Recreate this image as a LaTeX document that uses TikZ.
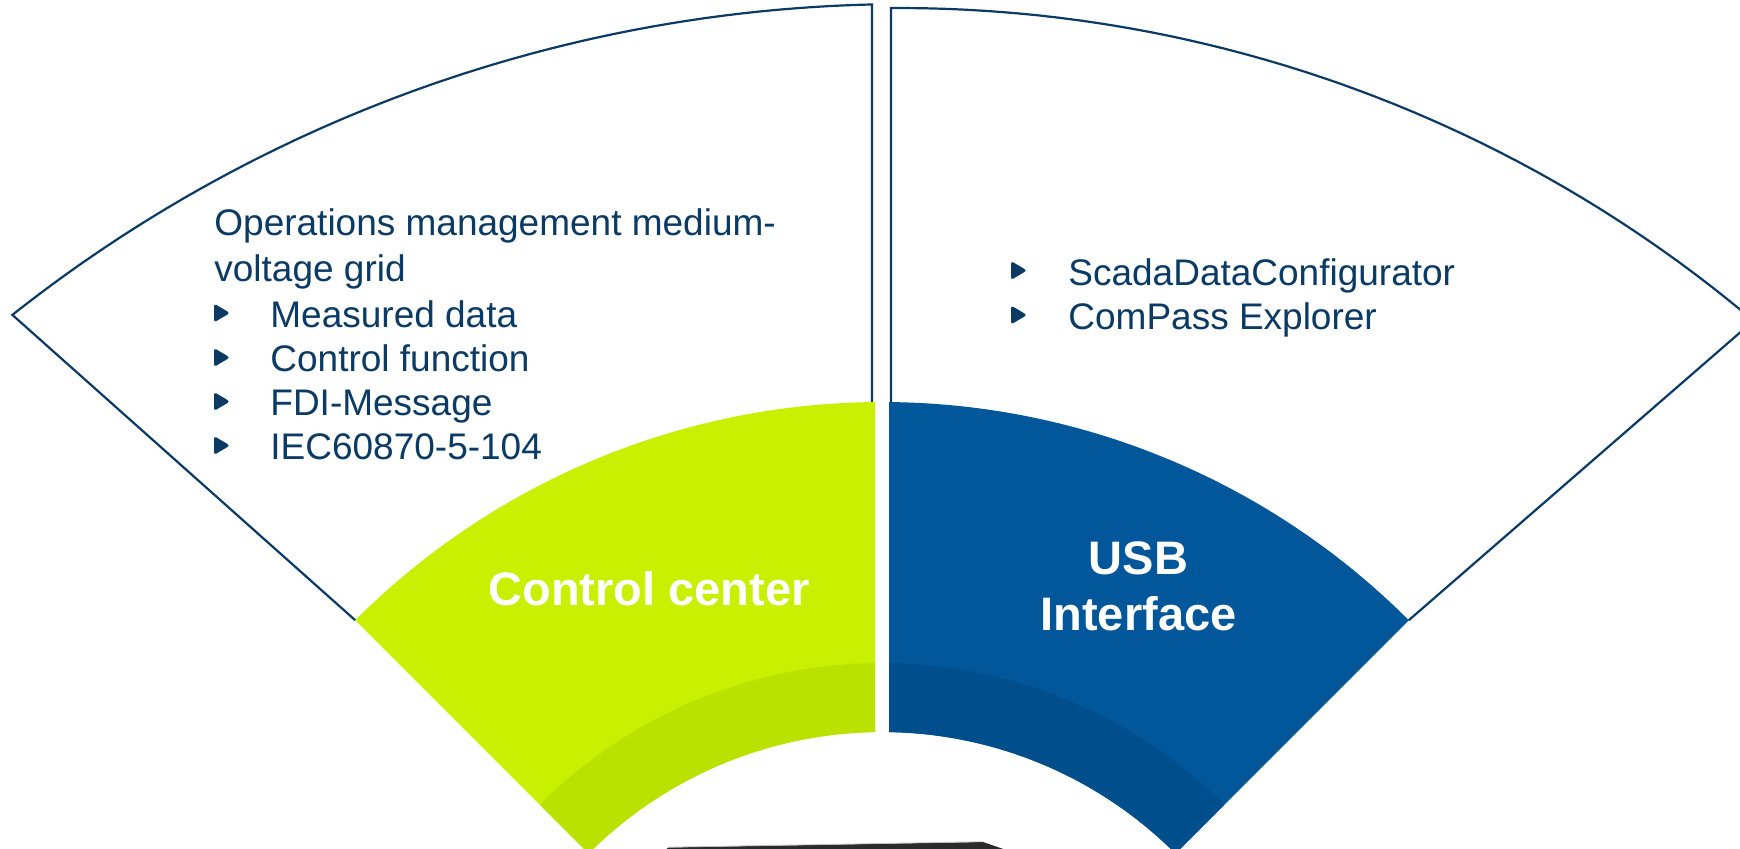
\documentclass[tikz,border=0pt]{standalone}
\usepackage{fontspec}
\setmainfont{Liberation Sans}
\definecolor{navy}{HTML}{0B3A64}
\definecolor{lime}{HTML}{C8F000}
\definecolor{limedark}{HTML}{BAE100}
\definecolor{blu}{HTML}{02569A}
\definecolor{bludark}{HTML}{004F8C}
\definecolor{devc}{HTML}{2B2B2B}
\begin{document}
\begin{tikzpicture}[x=0.5pt,y=-0.5pt,
  outline/.style={draw=navy, line width=1.1pt, line join=miter},
  body/.style={anchor=base west, inner sep=0pt, text=navy, font=\fontsize{18.5}{22}\selectfont},
  biglabel/.style={anchor=base, inner sep=0pt, text=white, font=\bfseries\fontsize{23.5}{28}\selectfont},
  bul/.pic={\fill[navy, rounded corners=1.4pt] (0,-9.5) -- (16,0) -- (0,9.5) -- cycle;}]
\useasboundingbox (0,0) rectangle (1740,849);
\clip (0,0) rectangle (1740,849);
\fill[white] (0,0) rectangle (1740,849);

% outlined outer sectors
\coordinate (gcorner) at (355.2,620.2);
\coordinate (bcorner) at (1408.8,620.2);
\draw[outline] (gcorner) -- plot[domain=128.36:91.35, samples=90] ({906+1440*cos(\x)}, {1444-1440*sin(\x)}) -- (872,402);
\draw[outline] (891,402) -- plot[domain=90.35:49.8, samples=90] ({899+1324*cos(\x)}, {1332-1324*sin(\x)}) -- (bcorner);

% green sector
\begin{scope}
\clip (0,0) rectangle (875,849);
\fill[lime] plot[domain=90:135, samples=80] ({882+745*cos(\x)},{1147-745*sin(\x)})
  -- plot[domain=135:90, samples=80] ({882+415*cos(\x)},{1147-415*sin(\x)}) -- cycle;
\fill[limedark] plot[domain=90:135, samples=80] ({882+484*cos(\x)},{1147-484*sin(\x)})
  -- plot[domain=135:90, samples=80] ({882+415*cos(\x)},{1147-415*sin(\x)}) -- cycle;
\end{scope}

% blue sector
\begin{scope}
\clip (889,0) rectangle (1740,849);
\fill[blu] plot[domain=45:90, samples=80] ({882+745*cos(\x)},{1147-745*sin(\x)})
  -- plot[domain=90:45, samples=80] ({882+415*cos(\x)},{1147-415*sin(\x)}) -- cycle;
\fill[bludark] plot[domain=45:90, samples=80] ({882+484*cos(\x)},{1147-484*sin(\x)})
  -- plot[domain=90:45, samples=80] ({882+415*cos(\x)},{1147-415*sin(\x)}) -- cycle;
\end{scope}

% device at bottom
\fill[devc] (664,852) -- (668,847.5) -- (983,842) -- (1012,852) -- cycle;
\draw[black!25, line width=0.4pt] (668,847.2) -- (983,841.7);

% left texts
\node[body] (t1) at (214,236) {Operations management medium-};
\node[body] (t2) at (214,281.7) {voltage grid};
\node[body] (t3) at (270,327.7) {Measured data};
\node[body] (t4) at (270,371.7) {Control function};
\node[body] (t5) at (270,416) {FDI-Message};
\node[body] (t6) at (270,460) {IEC60870-5-104};
\pic at (214,313) {bul};
\pic at (214,357.5) {bul};
\pic at (214,401.5) {bul};
\pic at (214,445.5) {bul};

% right texts
\node[body] (r1) at (1068,286) {ScadaDataConfigurator};
\node[body] (r2) at (1068,330) {ComPass Explorer};
\pic at (1011,270.5) {bul};
\pic at (1011,315) {bul};

% labels
\node[biglabel] (cc) at (649,605) {Control center};
\node[biglabel] (usb) at (1138.5,575) {USB};
\node[biglabel] (usb2) at (1138.5,630.7) {Interface};
\end{tikzpicture}
\end{document}
